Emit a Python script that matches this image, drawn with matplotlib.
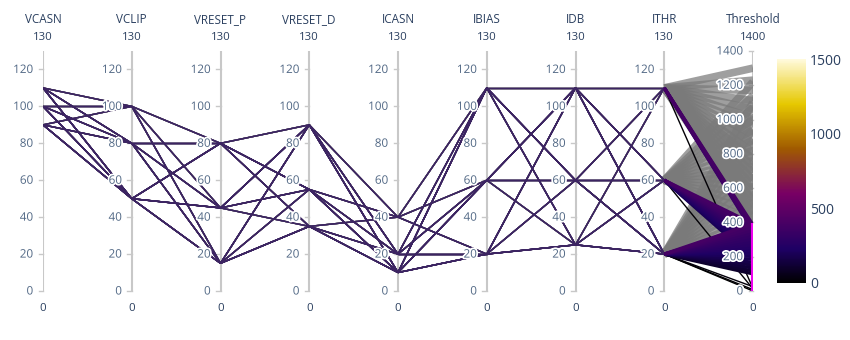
import numpy as np
import matplotlib.pyplot as plt
import matplotlib.patheffects as pe
from matplotlib.collections import LineCollection
from matplotlib.colors import LinearSegmentedColormap, Normalize
from matplotlib.cm import ScalarMappable

plt.rcParams['font.family'] = ['Open Sans', 'DejaVu Sans']

# ---- data -------------------------------------------------------------
dims = ['VCASN', 'VCLIP', 'VRESET_P', 'VRESET_D', 'ICASN', 'IBIAS', 'IDB', 'ITHR', 'Threshold']
dim_max = [130, 130, 130, 130, 130, 130, 130, 130, 1400]
param_ticks = [0, 20, 40, 60, 80, 100, 120]
thr_ticks = [0, 200, 400, 600, 800, 1000, 1200, 1400]
thr_constraint = (0, 395)
color_range = (0, 1500)

# rows: context (ITHR 110 / 60 / 20), near-zero, selected (ITHR 110 / 60 / 20)
vcasn = ([110, 90, 100, 110, 90, 100, 110, 90, 100, 110, 90, 100, 110, 90, 100, 110, 90, 100, 110, 90] +
         [100, 110, 90, 100, 110, 90, 100, 110, 90, 100, 110, 90, 100, 110, 90] +
         [90, 100, 110, 90, 100, 110, 90, 100, 110, 90, 100, 110] +
         [100, 110, 90, 100, 110] +
         [110, 90, 100, 110, 90, 100] +
         [100, 110, 90, 100, 110, 90, 100, 110, 90, 100, 110, 90] +
         [90, 100, 110, 90, 100, 110, 90, 100, 110, 90, 100, 110, 90, 100, 110, 90, 100, 110])
vclip = ([100] * 20 + [80] * 15 + [50] * 12 +
         [100, 80, 50, 50, 50] +
         [100] * 6 + [80] * 12 + [50] * 18)
vreset_p = ([80, 45, 15, 80, 45, 15, 80, 45, 15, 80, 45, 15, 80, 45, 15, 80, 45, 15, 80, 45] +
            [45, 15, 80, 45, 15, 80, 45, 15, 80, 45, 15, 80, 45, 15, 80] +
            [15, 80, 45, 15, 80, 45, 15, 80, 45, 15, 80, 45] +
            [15, 15, 15, 80, 45] +
            [80, 45, 15, 80, 45, 15] +
            [45, 15, 80, 45, 15, 80, 45, 15, 80, 45, 15, 80] +
            [15, 80, 45, 15, 80, 45, 15, 80, 45, 15, 80, 45, 15, 80, 45, 15, 80, 45])
vreset_d = ([90, 35, 55, 90, 35, 55, 90, 35, 55, 90, 35, 55, 90, 35, 55, 90, 35, 55, 90, 35] +
            [55, 90, 35, 55, 90, 35, 55, 90, 35, 55, 90, 35, 55, 90, 35] +
            [35, 55, 90, 35, 55, 90, 35, 55, 90, 35, 55, 90] +
            [55, 90, 35, 55, 90] +
            [90, 35, 55, 90, 35, 55] +
            [55, 90, 35, 55, 90, 35, 55, 90, 35, 55, 90, 35] +
            [35, 55, 90, 35, 55, 90, 35, 55, 90, 35, 55, 90, 35, 55, 90, 35, 55, 90])
icasn = ([40] * 20 + [20] * 15 + [10] * 12 +
         [40, 20, 10, 10, 10] +
         [40] * 6 + [20] * 12 + [10] * 18)
ibias = ([110, 60, 20, 110, 60, 20, 110, 60, 20, 110, 60, 20, 110, 60, 20, 110, 60, 20, 110, 60] +
         [60, 20, 110, 60, 20, 110, 60, 20, 110, 60, 20, 110, 60, 20, 110] +
         [20, 110, 60, 20, 110, 60, 20, 110, 60, 20, 110, 60] +
         [20, 20, 20, 110, 60] +
         [110, 60, 20, 110, 60, 20] +
         [60, 20, 110, 60, 20, 110, 60, 20, 110, 60, 20, 110] +
         [20, 110, 60, 20, 110, 60, 20, 110, 60, 20, 110, 60, 20, 110, 60, 20, 110, 60])
idb = ([110, 25, 60, 110, 25, 60, 110, 25, 60, 110, 25, 60, 110, 25, 60, 110, 25, 60, 110, 25] +
       [60, 110, 25, 60, 110, 25, 60, 110, 25, 60, 110, 25, 60, 110, 25] +
       [25, 60, 110, 25, 60, 110, 25, 60, 110, 25, 60, 110] +
       [60, 110, 25, 60, 110] +
       [110, 25, 60, 110, 25, 60] +
       [60, 110, 25, 60, 110, 25, 60, 110, 25, 60, 110, 25] +
       [25, 60, 110, 25, 60, 110, 25, 60, 110, 25, 60, 110, 25, 60, 110, 25, 60, 110])
ithr = ([110] * 20 + [60] * 15 + [20] * 12 +
        [110, 60, 20, 20, 20] +
        [110] * 6 + [60] * 12 + [20] * 18)
threshold = ([410, 450, 490, 530, 570, 610, 650, 690, 730, 770, 810, 860, 910, 960, 1010, 1060, 1110, 1170, 1230, 1300] +
             [410, 460, 510, 560, 610, 660, 710, 760, 820, 880, 940, 1000, 1070, 1140, 1220] +
             [410, 460, 510, 560, 620, 680, 740, 800, 870, 940, 1020, 1100] +
             [15, 12, 0, 8, 25] +
             [345, 352, 360, 367, 375, 385] +
             [190, 208, 226, 244, 262, 280, 298, 316, 334, 352, 370, 392] +
             [100, 117, 134, 151, 168, 185, 202, 219, 236, 253, 270, 287, 304, 321, 338, 355, 372, 392])

# ---- colours ------------------------------------------------------------
electric = LinearSegmentedColormap.from_list('electric', [
    (0.0, (0, 0, 0)),
    (0.15, (30 / 255, 0, 100 / 255)),
    (0.4, (120 / 255, 0, 100 / 255)),
    (0.6, (160 / 255, 90 / 255, 0)),
    (0.8, (230 / 255, 200 / 255, 0)),
    (1.0, (1.0, 250 / 255, 220 / 255)),
])
norm = Normalize(*color_range)
title_col = '#2a3f5f'
tick_col = '#506784'
axis_col = '#c8c8c8'
param_line_col = '#3c2462'

columns = [vcasn, vclip, vreset_p, vreset_d, icasn, ibias, idb, ithr, threshold]
data = np.array(columns, dtype=float).T
scaled = data / np.array(dim_max, dtype=float)
n_dims = len(dims)
xs = np.arange(n_dims)

selected = (data[:, -1] >= thr_constraint[0]) & (data[:, -1] <= thr_constraint[1])

fig = plt.figure(figsize=(8.5, 3.4), dpi=100)
ax = fig.add_axes([43 / 850, 49 / 340, 710 / 850, 240 / 340])
ax.set_xlim(0, n_dims - 1)
ax.set_ylim(0, 1)
ax.axis('off')

# axis lines
for i in xs:
    ax.plot([i, i], [0, 1], color=axis_col, lw=1.5, zorder=1, solid_capstyle='butt')


def add_lines(rows, colors, alpha, z, fan_lw, param_col=None):
    segs, widths, cols = [], [], []
    for r, c in zip(rows, colors):
        for j in range(n_dims - 1):
            segs.append([(xs[j], scaled[r, j]), (xs[j + 1], scaled[r, j + 1])])
            last = j == n_dims - 2
            if last:
                widths.append(fan_lw if data[r, -1] > 60 else 1.0)
                cols.append(c)
            else:
                widths.append(1.0)
                cols.append(param_col if param_col is not None else c)
    lc = LineCollection(segs, colors=cols, linewidths=widths, alpha=alpha, zorder=z)
    ax.add_collection(lc)


ctx_rows = np.where(~selected)[0]
sel_rows = np.where(selected)[0]
add_lines(ctx_rows, ['#7a7a7a'] * len(ctx_rows), 0.72, 2, 5.5)
add_lines(sel_rows, [electric(norm(data[r, -1])) for r in sel_rows], 1.0, 3, 2.4, param_line_col)

# constraint bar on Threshold
ax.plot([xs[-1], xs[-1]], [thr_constraint[0] / dim_max[-1], thr_constraint[1] / dim_max[-1]],
        color='#ee00ee', lw=3, zorder=6, solid_capstyle='butt')

halo = [pe.withStroke(linewidth=2.5, foreground='white')]
tick_len = 0.05
for i, name in enumerate(dims):
    ticks = thr_ticks if name == 'Threshold' else param_ticks
    for t in ticks:
        y = t / dim_max[i]
        ax.plot([i - tick_len, i], [y, y], color=axis_col, lw=1, zorder=1, clip_on=False)
        ax.annotate(str(t), (i, y), xytext=(-7, 0), textcoords='offset points',
                    ha='right', va='center', fontsize=8.4, color=tick_col,
                    path_effects=halo, zorder=7, annotation_clip=False)
    ax.annotate(name, (i, 1), xytext=(0, 22.5), textcoords='offset points',
                ha='center', va='center', fontsize=8.4, color=title_col, annotation_clip=False)
    ax.annotate(str(dim_max[i]), (i, 1), xytext=(0, 9.5), textcoords='offset points',
                ha='center', va='center', fontsize=8.2, color=title_col, annotation_clip=False)
    ax.annotate('0', (i, 0), xytext=(0, -12.5), textcoords='offset points',
                ha='center', va='center', fontsize=8.2, color=title_col, annotation_clip=False)

# colorbar
cax = fig.add_axes([777 / 850, 57 / 340, 29 / 850, 224 / 340])
cb = fig.colorbar(ScalarMappable(norm=norm, cmap=electric), cax=cax, ticks=[0, 500, 1000, 1500])
cb.outline.set_visible(False)
cax.tick_params(length=0, labelsize=10, labelcolor=title_col, pad=3)

fig.savefig('out.png', dpi=100)
